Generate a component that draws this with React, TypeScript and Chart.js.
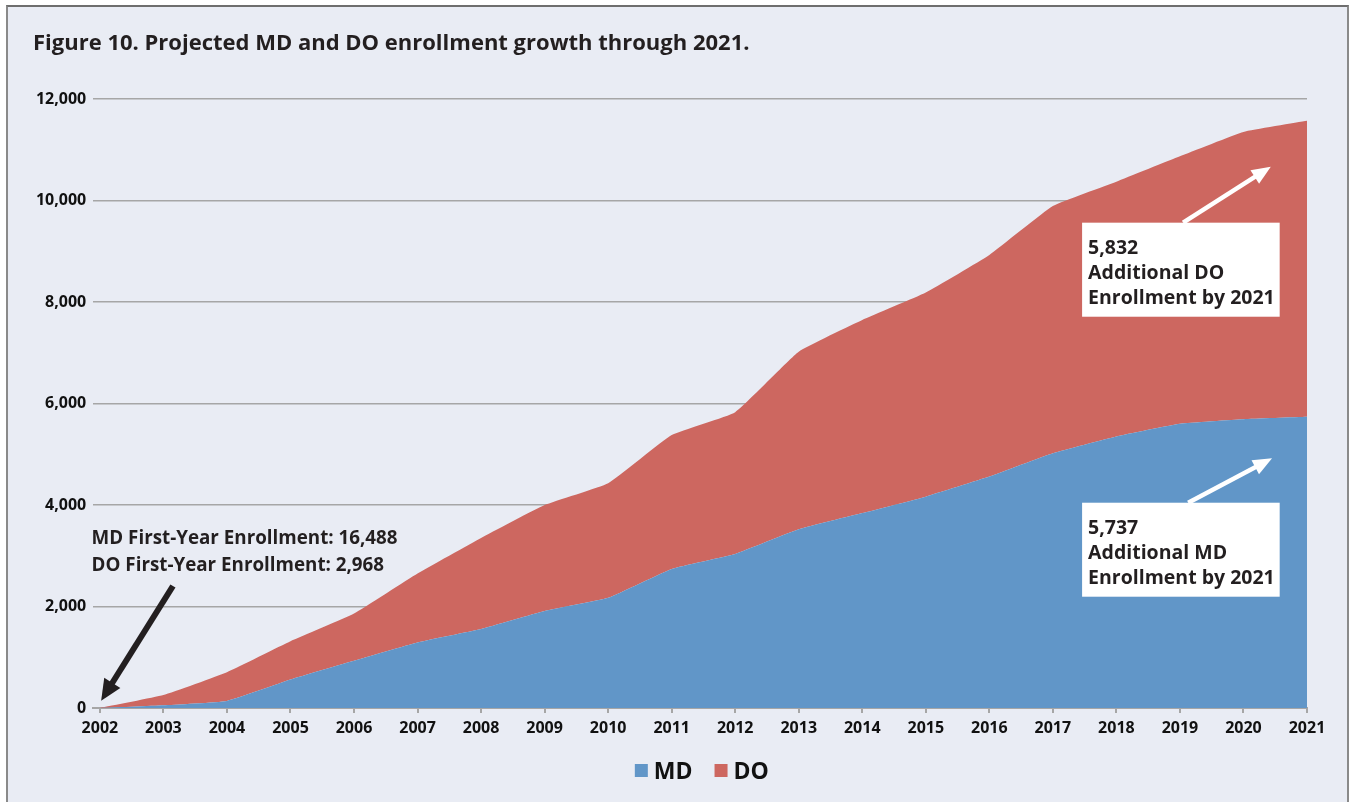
import React, { useEffect, useRef } from "react";
import { Chart, registerables } from "chart.js";

Chart.register(...registerables);

const TITLE = "Figure 10. Projected MD and DO enrollment growth through 2021.";
const YEARS = [2002, 2003, 2004, 2005, 2006, 2007, 2008, 2009, 2010, 2011, 2012, 2013, 2014, 2015, 2016, 2017, 2018, 2019, 2020, 2021];
const MD_VALUES = [0, 55, 140, 560, 930, 1290, 1555, 1910, 2170, 2740, 3035, 3520, 3840, 4165, 4560, 5020, 5350, 5600, 5690, 5737];
const DO_VALUES = [0, 200, 565, 755, 930, 1360, 1795, 2090, 2260, 2640, 2795, 3500, 3805, 4020, 4365, 4870, 5020, 5270, 5660, 5832];
const Y_TICKS = [0, 2000, 4000, 6000, 8000, 10000, 12000];
const SERIES_LABELS = ["MD", "DO"];
const SERIES_COLORS = ["#6196c8", "#cd6760"];

const DO_NOTE = ["5,832", "Additional DO", "Enrollment by 2021"];
const MD_NOTE = ["5,737", "Additional MD", "Enrollment by 2021"];
const BASE_NOTE = ["MD First-Year Enrollment: 16,488", "DO First-Year Enrollment: 2,968"];

const FONT = '"Open Sans", "Noto Sans", sans-serif';
const TEXT = "#231f20";

function drawArrow(ctx: CanvasRenderingContext2D, x1: number, y1: number, x2: number, y2: number, color: string, width: number, headLen: number, headHalf: number) {
  const ang = Math.atan2(y2 - y1, x2 - x1);
  const c = Math.cos(ang), s = Math.sin(ang);
  const bx = x2 - headLen * c, by = y2 - headLen * s;
  ctx.save();
  ctx.strokeStyle = color;
  ctx.fillStyle = color;
  ctx.lineWidth = width;
  ctx.lineCap = "butt";
  ctx.beginPath();
  ctx.moveTo(x1, y1);
  ctx.lineTo(bx + c, by + s);
  ctx.stroke();
  ctx.beginPath();
  ctx.moveTo(x2, y2);
  ctx.lineTo(bx + headHalf * s, by - headHalf * c);
  ctx.lineTo(bx - headHalf * s, by + headHalf * c);
  ctx.closePath();
  ctx.fill();
  ctx.restore();
}

const decorPlugin = {
  id: "decor",
  afterDatasetsDraw(chart: any) {
    const { ctx, scales } = chart;
    const xs = scales.x, ys = scales.y;
    const px = (v: number) => xs.getPixelForValue(v);
    const py = (v: number) => ys.getPixelForValue(v);
    ctx.save();

    // callout boxes
    const boxes = [
      { lines: DO_NOTE, x0: 2017.46, x1: 2020.57, top: 9563, bottom: 7710, tail: [2019.05, 9563], tip: [2020.43, 10666] },
      { lines: MD_NOTE, x0: 2017.46, x1: 2020.57, top: 4045, bottom: 2193, tail: [2019.13, 4045], tip: [2020.45, 4920] },
    ];
    for (const b of boxes) {
      drawArrow(ctx, px(b.tail[0]), py(b.tail[1]), px(b.tip[0]), py(b.tip[1]), "#ffffff", 4.5, 19, 8);
      const l = px(b.x0), r = px(b.x1), t = py(b.top), bt = py(b.bottom);
      ctx.fillStyle = "#ffffff";
      ctx.fillRect(l, t, r - l, bt - t);
      ctx.fillStyle = TEXT;
      ctx.font = `bold 19.5px ${FONT}`;
      ctx.textAlign = "left";
      ctx.textBaseline = "alphabetic";
      b.lines.forEach((ln, i) => ctx.fillText(ln, l + 6, t + 31 + i * 25));
    }

    // base-year note
    ctx.fillStyle = TEXT;
    ctx.font = `bold 18.8px ${FONT}`;
    ctx.textAlign = "left";
    ctx.textBaseline = "alphabetic";
    ctx.fillText(BASE_NOTE[0], px(2001.87), py(3232));
    ctx.fillText(BASE_NOTE[1], px(2001.87), py(2705));
    drawArrow(ctx, px(2003.15), py(2404), px(2002.02), py(144), TEXT, 6, 21, 9.5);

    ctx.restore();
  },
  afterDraw(chart: any) {
    const { ctx, chartArea } = chart;
    ctx.save();
    // title
    ctx.fillStyle = TEXT;
    ctx.font = `bold 22px ${FONT}`;
    ctx.textAlign = "left";
    ctx.textBaseline = "alphabetic";
    ctx.fillText(TITLE, 25, 42.5);

    // legend
    ctx.font = `bold 23px ${FONT}`;
    const items = chart.data.datasets.map((d: any) => ({ text: d.label, color: d.backgroundColor, w: ctx.measureText(d.label).width }));
    const box = 13, gap = 6, sep = 22;
    const total = items.reduce((a: number, it: any) => a + box + gap + it.w, 0) + sep * (items.length - 1);
    let x = (chartArea.left + chartArea.right) / 2 + 2 - total / 2;
    for (const it of items) {
      ctx.fillStyle = it.color;
      ctx.fillRect(x, 757, box, box);
      ctx.fillStyle = "#111111";
      ctx.fillText(it.text, x + box + gap, 772);
      x += box + gap + it.w + sep;
    }
    ctx.restore();
  },
};

export default function App() {
  const ref = useRef<HTMLCanvasElement | null>(null);

  useEffect(() => {
    let chart: Chart | null = null;
    let cancelled = false;
    const make = () => {
      if (cancelled || !ref.current) return;
      chart = new Chart(ref.current, {
        type: "line",
        data: {
          datasets: [
            {
              label: SERIES_LABELS[0],
              data: YEARS.map((yr, i) => ({ x: yr, y: MD_VALUES[i] })),
              backgroundColor: SERIES_COLORS[0],
              borderColor: SERIES_COLORS[0],
              borderWidth: 0,
              pointRadius: 0,
              fill: "origin",
              tension: 0.12,
            },
            {
              label: SERIES_LABELS[1],
              data: YEARS.map((yr, i) => ({ x: yr, y: DO_VALUES[i] })),
              backgroundColor: SERIES_COLORS[1],
              borderColor: SERIES_COLORS[1],
              borderWidth: 0,
              pointRadius: 0,
              fill: "-1",
              tension: 0.12,
            },
          ],
        },
        options: {
          animation: false,
          responsive: true,
          maintainAspectRatio: false,
          layout: { padding: { left: 25, right: 40, top: 92, bottom: 0 } },
          plugins: { legend: { display: false }, tooltip: { enabled: false }, title: { display: false } },
          scales: {
            x: {
              type: "linear",
              min: 2001.887,
              max: 2021,
              afterBuildTicks: (s: any) => { s.ticks = YEARS.map((v) => ({ value: v })); },
              afterFit: (s: any) => { s.height = 94; },
              ticks: {
                callback: (v: any) => String(v),
                font: { family: FONT, size: 16, weight: "bold" },
                color: "#111111",
                padding: 6,
                maxRotation: 0,
                autoSkip: false,
              },
              grid: { drawOnChartArea: false, drawTicks: true, tickLength: 5, color: "#a6a6a6", lineWidth: 2 },
              border: { display: true, color: "#a6a6a6", width: 2 },
            },
            y: {
              stacked: true,
              min: 0,
              max: 12000,
              afterBuildTicks: (s: any) => { s.ticks = Y_TICKS.map((v) => ({ value: v })); },
              afterFit: (s: any) => { s.width = 59.7; },
              ticks: {
                callback: (v: any) => Number(v).toLocaleString("en-US"),
                font: { family: FONT, size: 16, weight: "bold" },
                color: "#111111",
                padding: 6.5,
              },
              grid: { color: "#a6a6a6", lineWidth: 1.5, drawTicks: false, tickLength: 0 },
              border: { display: false },
            },
          },
        },
        plugins: [decorPlugin],
      });
    };
    const fontsReady = (document as any).fonts?.load
      ? Promise.all([
          (document as any).fonts.load(`bold 16px "Open Sans"`),
          (document as any).fonts.load(`bold 23px "Open Sans"`),
        ]).catch(() => null)
      : Promise.resolve();
    fontsReady.then(make);
    return () => {
      cancelled = true;
      if (chart) chart.destroy();
    };
  }, []);

  return (
    <div
      style={{
        position: "absolute",
        left: 6,
        top: 5,
        width: 1339,
        height: 795,
        background: "#e9ecf4",
        borderTop: "2px solid #6e6e6e",
        borderLeft: "2px solid #8a8a8a",
        borderRight: "2px solid #8a8a8a",
        overflow: "hidden",
      }}
    >
      <canvas ref={ref} style={{ display: "block" }} />
    </div>
  );
}
